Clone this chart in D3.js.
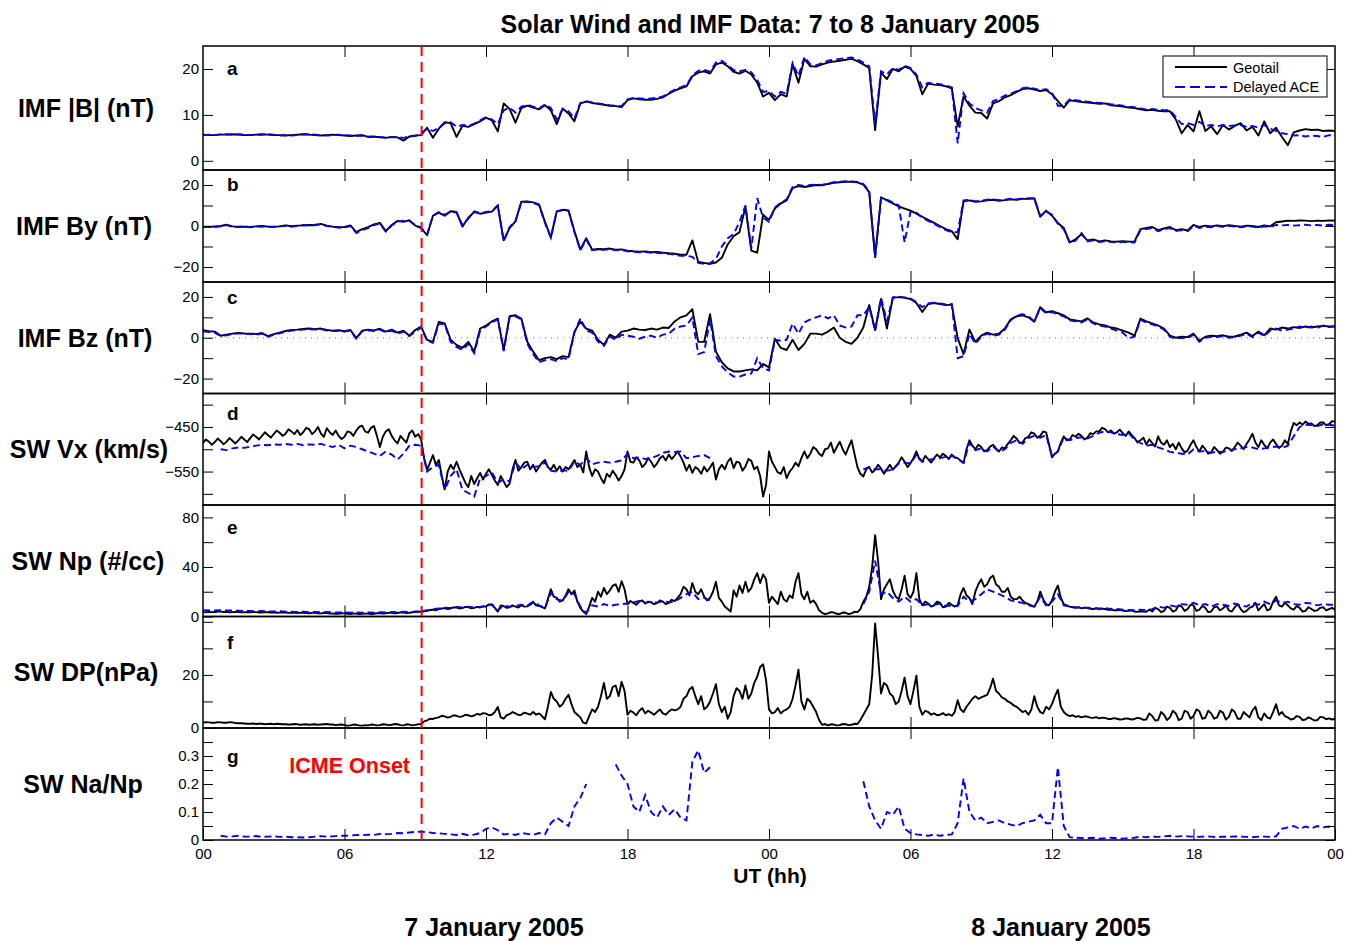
<!DOCTYPE html>
<html><head><meta charset="utf-8">
<script src="https://cdn.jsdelivr.net/npm/d3@7"></script>
<style>
body{margin:0;background:#fff}
text{font-family:Arial,"Liberation Sans",Helvetica,sans-serif}
</style>
</head><body>
<svg id="chart" width="1355" height="941"></svg>
<script>
// ---------------- DATA ----------------
// magnetic-field / ACE series: one value every 0.25 h; Geotail plasma series: every 0.125 h
const stepHours = 0.25;
const fineStepHours = 0.125;
const hourTicks = [0, 6, 12, 18, 24, 30, 36, 42, 48];
const hourTickLabels = ["00","06","12","18","00","06","12","18","00"];
const onsetHour = 9.27;
const seriesNames = ["Geotail", "Delayed ACE"];
const dayLabels = ["7 January 2005", "8 January 2005"];

const bmagGeotail = [
5.7,5.6,5.6,5.7, 5.7,5.8,5.7,5.6, 5.6,5.7,5.8,5.7, 5.6,5.6,5.5,5.6,
5.7,5.8,5.7,5.6, 5.5,5.6,5.7,5.6, 5.5,5.4,5.5,5.6, 5.2,5.3,5.1,5.0,
5.2,5.1,4.4,5.3, 5.5,5.6,7.2,5.0, 7.0,8.4,8.2,5.2, 7.6,7.4,8.0,8.6,
9.4,8.8,6.4,12.5, 11.3,8.3,11.5,12.0, 11.6,11.2,12.1,11.0, 8.0,11.4,10.3,8.6,
12.5,12.9,12.6,12.4, 12.2,12.0,11.9,11.7, 13.2,13.6,13.4,13.3, 13.3,13.5,13.8,14.6,
15.3,15.8,16.2,18.4, 19.2,19.5,19.0,21.0, 21.4,20.6,19.4,19.0, 19.6,18.8,17.0,14.0,
14.8,13.2,14.5,14.0, 21.0,17.0,22.2,20.6, 20.5,21.0,21.4,21.6, 21.8,22.0,22.2,21.7,
21.0,20.2,6.7,19.2, 17.8,20.0,19.5,20.5, 20.0,18.5,14.5,16.8, 16.6,16.5,16.2,15.8,
7.5,14.0,12.0,10.5, 10.4,9.2,12.5,13.0, 13.8,14.3,15.0,15.6, 15.8,15.5,15.2,15.4,
14.5,13.0,11.6,13.2, 13.0,12.8,12.7,12.6, 12.4,12.5,12.1,12.0, 11.8,11.6,11.5,11.2,
11.0,11.1,10.9,10.8, 10.8,9.0,6.0,7.8, 6.4,10.8,6.5,7.5, 5.8,7.8,6.8,7.6,
8.2,6.6,7.4,5.5, 8.6,6.0,7.2,5.2, 3.4,6.2,6.6,6.9, 6.7,6.8,6.5,6.6,
6.5];
const bmagAce = [
5.6,5.7,5.6,5.8, 5.8,5.7,5.8,5.7, 5.6,5.6,5.7,5.8, 5.7,5.5,5.6,5.5,
5.6,5.8,5.8,5.7, 5.6,5.5,5.6,5.7, 5.6,5.5,5.4,5.5, 5.3,5.2,5.2,5.1,
5.1,5.2,5.0,5.3, 5.4,6.0,7.0,6.5, 7.2,8.2,8.4,7.4, 7.8,7.6,8.1,8.8,
9.5,9.0,8.0,11.0, 11.6,10.5,11.8,12.2, 11.8,11.4,12.3,11.5, 9.0,11.2,10.8,9.2,
12.6,13.0,12.7,12.5, 12.3,12.1,12.0,11.9, 13.4,13.7,13.6,13.5, 13.6,13.7,14.0,14.8,
15.5,16.0,16.5,18.6, 19.6,19.8,19.4,21.4, 21.8,20.8,19.8,19.5, 19.8,19.3,17.6,15.0,
15.2,14.0,15.0,14.6, 21.3,18.5,22.6,21.0, 20.8,21.3,21.8,22.0, 22.2,22.4,22.5,22.1,
21.4,20.6,8.0,19.5, 18.8,20.2,19.8,20.7, 20.2,18.8,16.0,17.0, 16.8,16.7,16.4,16.0,
3.8,14.7,12.5,11.5, 11.0,10.5,13.0,13.5, 14.2,14.6,15.2,15.8, 16.0,15.7,15.4,15.6,
14.8,12.0,12.0,13.4, 13.2,13.0,12.9,12.7, 12.6,12.6,12.3,12.2, 12.0,11.8,11.7,11.4,
11.2,11.3,11.1,11.0, 11.0,9.5,8.0,8.2, 7.8,8.5,7.6,7.8, 7.5,7.8,7.6,7.7,
7.8,7.4,7.6,7.2, 7.8,7.0,6.5,6.0, 5.8,5.5,5.6,5.3, 5.5,5.4,5.2,5.6,
5.5];

const byGeotail = [
-0.3,-0.5,-0.2,0.0, 0.6,-0.2,-0.4,-0.3, -0.5,-0.2,0.0,-0.3, -0.4,-0.2,0.3,-0.1,
0.2,0.3,0.5,0.4, 1.0,0.2,-0.3,-0.6, -0.5,0.3,-3.0,-1.5, -0.5,0.8,1.5,-2.5,
0.5,2.5,2.0,2.8, 0.2,-1.0,-4.5,5.0, 6.5,5.0,7.2,6.8, -0.3,4.0,6.8,6.0,
6.5,7.0,10.0,-7.0, -1.0,2.2,11.9,12.0, 11.5,10.5,2.0,-5.5, 7.0,7.9,7.6,-2.6,
-11.5,-6.0,-11.5,-11.2, -11.3,-11.0,-11.5,-11.4, -12.0,-12.3,-12.5,-12.4, -12.8,-12.7,-13.0,-13.3,
-13.5,-14.0,-14.0,-7.0, -17.5,-18.0,-18.5,-17.8, -15.5,-9.0,-5.0,-3.0, 9.5,-12.0,-13.0,5.5,
3.0,8.5,11.0,12.5, 18.5,19.5,19.0,19.5, 20.0,19.8,20.5,21.0, 21.3,21.5,21.6,21.3,
20.2,16.5,-15.0,14.0, 12.5,11.0,9.5,8.5, 7.5,6.0,4.5,3.0, 1.5,0.0,-1.5,-2.5,
-6.5,12.0,12.5,11.8, 12.0,12.5,12.8,12.3, 12.6,13.0,12.8,13.2, 13.3,13.6,4.5,7.5,
5.0,1.5,-1.0,-8.0, -6.5,-4.0,-7.0,-6.5, -7.5,-7.0,-7.5,-7.6, -7.4,-7.6,-7.5,-1.5,
-1.0,-0.5,-2.0,-1.2, -0.5,-2.0,-1.5,-2.2, 0.5,-0.5,0.2,-0.2, 0.3,-0.1,0.4,0.0,
-0.3,0.2,0.0,-0.5, 0.3,-0.2,1.8,2.2, 2.6,2.5,2.7,2.6, 2.4,2.6,2.5,2.7,
2.6];
const byAce = [
-0.5,-0.3,-0.5,-0.2, 0.4,-0.4,-0.5,-0.2, -0.6,-0.3,-0.1,-0.4, -0.5,-0.1,0.1,-0.3,
0.0,0.5,0.3,0.6, 0.8,0.0,-0.5,-0.8, -0.7,0.0,-3.4,-2.0, -1.0,0.5,1.2,-2.7,
0.2,2.2,2.5,2.5, 0.5,-0.8,-4.2,5.0, 6.8,5.5,7.0,6.5, 0.5,3.6,7.1,6.3,
6.8,7.2,10.0,-7.5, -0.5,2.5,11.5,11.8, 11.2,10.2,1.5,-5.7, 7.2,7.8,7.4,-3.0,
-11.8,-6.5,-11.8,-11.5, -11.6,-11.3,-11.8,-11.7, -12.3,-12.6,-12.8,-12.7, -13.0,-13.1,-13.3,-13.6,
-14.0,-14.5,-14.5,-15.0, -18.0,-18.5,-18.2,-16.0, -10.0,-6.0,-4.0,2.0, 10.0,-11.0,13.6,4.0,
2.0,9.0,11.5,13.0, 19.0,20.0,19.5,20.0, 20.2,20.0,20.8,21.3, 21.6,21.8,21.7,21.5,
20.5,17.0,-15.5,13.6, 12.8,11.5,10.0,-8.0, 7.0,6.5,4.0,2.5, 1.0,-0.5,-2.0,-3.0,
-3.0,12.5,12.8,12.0, 12.3,12.8,13.0,12.6, 12.8,13.3,13.0,13.4, 13.5,13.2,5.0,7.0,
5.5,1.0,-1.5,-8.3, -7.0,-3.5,-7.5,-7.0, -7.8,-7.4,-7.8,-8.0, -7.8,-7.9,-8.0,-2.0,
-1.5,-1.0,-2.5,-1.5, -1.0,-2.5,-2.0,-2.5, 0.0,-1.0,-0.3,-0.6, 0.0,-0.4,0.1,-0.3,
-0.6,-0.2,-0.3,-0.8, -0.2,-0.5,0.5,0.3, 0.5,0.2,0.4,0.6, 0.3,0.5,0.2,0.6,
0.4];

const bzGeotail = [
3.7,3.2,3.0,1.0, 1.5,2.0,2.4,2.1, 2.0,1.8,2.3,0.8, 1.8,2.5,3.3,3.8,
4.0,4.3,4.5,4.2, 4.5,3.8,3.5,3.7, 3.2,3.8,-0.2,3.5, 4.0,3.6,4.4,3.0,
4.0,2.5,3.5,1.0, 3.8,5.5,-1.0,-2.0, 7.8,7.0,-1.0,-3.5, -5.0,-2.0,-6.8,4.5,
6.0,8.0,9.4,-6.0, 10.5,11.0,9.4,-2.0, -6.8,-11.0,-10.0,-9.5, -10.5,-9.0,-9.5,3.0,
8.0,4.5,3.5,-1.0, -3.5,1.5,0.0,3.0, 3.5,4.5,4.0,3.8, 4.5,4.0,5.0,4.8,
8.0,10.0,11.0,14.0, -2.0,-2.0,11.5,-6.8, -12.0,-15.0,-16.5,-16.5, -16.0,-15.5,-16.0,-12.8,
-14.6,-0.5,-5.0,-6.0, -1.0,-6.0,-3.0,2.0, 2.0,1.5,3.0,5.0, 0.0,-2.0,-3.0,0.0,
5.0,16.0,3.7,19.0, 4.5,19.5,19.9,19.5, 19.0,17.0,12.6,16.5, 17.0,16.5,16.0,16.2,
-0.2,-8.0,4.0,-2.0, 1.0,2.5,1.5,2.0, 4.5,9.0,10.5,11.0, 10.0,7.8,15.0,12.5,
13.0,12.0,11.0,9.0, 8.5,8.0,9.5,7.5, 6.5,6.0,5.0,4.5, 3.5,2.5,1.0,9.4,
8.0,7.0,6.0,4.5, 1.0,0.0,0.5,0.3, 2.0,-1.5,0.5,1.0, 0.8,1.2,0.5,0.6,
1.5,2.5,0.8,3.0, 1.2,4.5,4.0,5.0, 4.5,5.2,4.8,5.5, 5.0,5.5,5.8,5.5,
5.6];
const bzAce = [
3.2,2.8,2.5,0.8, 1.2,1.8,2.2,1.9, 1.8,1.5,2.0,0.5, 1.5,2.2,3.0,3.5,
3.8,4.0,4.2,4.0, 4.2,3.5,3.3,3.4, 3.0,3.5,-0.5,3.2, 3.6,3.3,4.0,2.6,
3.5,2.0,3.0,0.8, 3.0,5.0,-1.5,-2.5, 7.0,6.5,-2.0,-4.5, -6.0,-3.0,-7.5,3.5,
5.5,7.5,9.0,-6.5, 10.0,10.5,9.0,-3.0, -8.0,-12.0,-11.0,-10.5, -11.5,-10.0,-10.5,2.5,
9.5,3.5,2.5,-2.0, -4.0,0.5,-1.0,1.5, 1.0,0.5,-0.5,0.5, 1.0,0.0,1.5,2.0,
4.5,5.5,6.0,10.0, -8.0,-7.0,9.0,-9.0, -14.0,-17.0,-19.0,-19.0, -18.0,-17.5,-10.0,-15.0,
-16.0,-1.0,-1.5,-1.0, 7.0,2.0,7.5,9.0, 10.0,11.0,9.5,11.0, 6.0,5.0,5.5,11.0,
11.0,15.0,3.5,19.5, 8.0,19.8,20.2,19.8, 19.2,17.5,15.0,16.8, 17.2,16.8,16.3,16.5,
-10.0,-9.0,2.0,-3.0, 0.5,2.0,1.0,1.5, 4.0,8.5,11.0,11.5, 10.5,8.0,14.5,12.0,
12.5,11.5,10.5,8.5, 8.0,7.5,9.0,7.0, 6.0,5.5,4.5,3.5, 2.5,-0.2,0.5,8.8,
7.5,6.5,5.5,4.0, 0.5,-0.5,0.0,-0.3, 1.5,-2.0,0.0,0.5, 0.3,0.8,0.0,0.2,
1.0,2.0,0.3,2.5, 0.8,3.5,4.5,3.5, 4.0,4.5,5.5,4.8, 5.5,4.8,6.0,5.2,
5.5];

// Geotail Vx, every 0.125 h (8 values per hour)
const vxGeotail = [
-486,-478,-483,-490,-484,-476,-482,-489, -483,-475,-481,-487,-480,-472,-478,-484,
-475,-467,-472,-478,-470,-462,-468,-474, -466,-458,-463,-470,-465,-455,-460,-466,
-457,-468,-462,-452,-455,-466,-460,-450, -465,-472,-453,-462,-468,-458,-470,-477,
-472,-460,-462,-470,-458,-450,-447,-460, -463,-452,-448,-470,-495,-472,-460,-455,
-470,-480,-487,-470,-478,-485,-464,-458, -472,-466,-478,-520,-546,-530,-513,-535,
-524,-560,-590,-550,-535,-545,-528,-545, -560,-575,-585,-560,-578,-565,-553,-568,
-555,-545,-558,-570,-580,-560,-572,-585, -577,-545,-524,-548,-540,-530,-528,-545,
-535,-550,-540,-530,-524,-540,-546,-535, -548,-538,-550,-540,-545,-535,-524,-540,
-535,-552,-505,-540,-560,-545,-550,-565, -576,-555,-562,-548,-558,-570,-560,-545,
-505,-528,-530,-518,-525,-540,-533,-520, -528,-540,-532,-520,-515,-525,-512,-522,
-514,-505,-516,-530,-548,-535,-553,-540, -545,-555,-539,-550,-541,-530,-568,-545,
-535,-545,-528,-520,-542,-528,-530,-548, -539,-522,-526,-545,-539,-560,-606,-580,
-505,-528,-540,-552,-555,-540,-565,-550, -542,-530,-538,-520,-505,-520,-510,-495,
-500,-510,-515,-500,-498,-485,-508,-495, -483,-500,-512,-495,-480,-510,-540,-555,
-561,-545,-540,-552,-546,-535,-543,-555, -545,-535,-546,-538,-530,-518,-528,-540,
-531,-520,-505,-522,-528,-515,-522,-530, -520,-512,-518,-510,-515,-522,-512,-518,
-520,-526,-531,-500,-480,-492,-500,-490, -495,-505,-502,-494,-490,-498,-505,-496,
-498,-488,-480,-470,-476,-486,-485,-475, -472,-462,-465,-474,-470,-460,-462,-490,
-518,-510,-505,-485,-471,-480,-478,-468, -472,-465,-470,-478,-474,-464,-466,-460,
-460,-452,-455,-462,-458,-465,-462,-456, -464,-470,-460,-468,-475,-485,-480,-474,
-489,-478,-486,-494,-471,-485,-490,-480, -495,-488,-500,-485,-498,-507,-503,-490,
-480,-495,-505,-492,-500,-510,-507,-495, -502,-510,-505,-496,-498,-504,-495,-485,
-492,-500,-488,-478,-465,-485,-495,-480, -490,-498,-485,-478,-488,-497,-492,-480,
-488,-460,-441,-446,-440,-445,-438,-443, -442,-448,-446,-440,-440,-446,-444,-437,
-438];
const vxAce = [
null,null,null,-500, -502,-498,-496,-497, -494,-492,-490,-491, -489,-490,-488,-490,
-488,-491,-489,-490, -488,-492,-495,-490, -498,-492,-495,-500, -505,-510,-515,-505,
-512,-523,-510,-492, -490,-492,-550,-540, -535,-591,-560,-545, -591,-598,-606,-565,
-560,-552,-575,-568, -572,-530,-545,-535, -540,-538,-530,-548, -550,-548,-548,-528,
-535,-520,-534,-530, -528,-530,-528,-525, -510,-520,-518,-522, -520,-515,-508,-505,
-506,-505,-520,-518, -515,-513,-520,null, null,null,null,null, null,null,null,null,
null,null,null,null, null,null,null,null, null,null,null,null, null,null,null,null,
-545,-540,-545,-545, -548,-546,-532,-530, -532,-512,-528,-524, -522,-520,-517,-515,
-522,-530,-486,-502, -498,-505,-494,-506, -500,-486,-480,-488, -475,-470,-474,-468,
-515,-505,-474,-480, -475,-473,-476,-470, -463,-460,-462,-466, -468,-464,-478,-486,
-492,-490,-496,-500, -506,-508,-510,-512, -500,-505,-504,-508, -505,-506,-502,-500,
-498,-495,-496,-500, -498,-496,-494,-497, -492,-471,-450,-445, -446,-448,-444,-445,
-447];

// Geotail Np, every 0.125 h
const npGeotail = [
3.5,3.3,3.8,3.5,3.6,3.9,3.9,3.6, 3.7,3.4,3.5,3.7,3.6,3.3,3.4,3.5,
3.3,3.6,3.5,3.2,3.2,3.5,3.4,3.1, 3.3,3.0,3.1,3.3,3.2,2.9,3.0,3.1,
2.8,3.1,3.0,2.7,2.6,2.9,2.9,2.6, 2.5,2.8,2.7,2.3,2.4,2.1,2.2,2.5,
2.6,2.2,2.0,2.4,2.3,1.9,2.1,2.3, 2.4,2.0,2.2,2.6,2.8,2.4,2.6,2.9,
3.0,2.6,2.8,3.3,3.2,2.8,3.0,3.3, 3.5,3.9,3.8,4.2,4.5,5.2,5.5,5.0,
6.0,6.5,6.8,6.0,6.5,7.4,7.2,6.4, 6.8,7.8,7.5,6.6,7.0,7.8,7.3,8.2,
8.0,9.8,9.5,7.0,4.0,9.0,8.5,7.0, 7.5,9.0,8.0,7.2,9.0,8.0,8.2,9.5,
11.6,9.0,8.5,7.5,6.5,14.0,22.0,16.0, 15.0,12.0,13.0,17.0,22.0,18.0,21.0,12.0,
7.0,4.0,2.0,8.0,15.0,12.0,20.0,16.0, 23.0,18.0,21.0,25.0,26.0,20.0,28.5,22.0,
10.0,12.5,11.0,9.5,12.0,13.0,10.5,12.0, 11.5,10.0,10.8,13.0,12.0,10.0,11.0,13.5,
12.5,15.0,18.0,24.0,22.0,17.0,27.0,20.0, 18.0,22.0,16.0,13.0,15.0,20.0,28.0,15.0,
12.0,8.0,6.0,4.0,21.0,16.0,25.0,19.0, 28.0,20.0,23.0,30.0,35.0,27.0,34.0,30.0,
11.0,16.0,13.0,10.0,20.0,14.0,12.0,17.0, 15.0,28.0,35.0,18.0,14.0,20.0,11.0,13.0,
10.0,5.0,3.0,2.0,2.5,3.5,3.2,2.2, 2.0,3.2,3.0,2.0,2.5,3.8,3.5,6.0,
12.0,16.0,24.0,40.0,65.7,45.0,14.0,22.0, 26.0,30.0,21.0,16.0,14.0,22.0,33.0,18.0,
15.0,20.0,35.0,14.0,9.0,12.0,10.5,8.0, 9.0,12.0,11.0,7.5,8.0,11.0,9.5,8.0,
9.0,18.0,23.0,17.0,15.0,10.0,20.0,26.0, 30.0,24.0,26.0,31.0,33.0,26.0,24.0,20.0,
20.0,23.0,16.0,14.0,14.0,16.0,13.0,11.0, 10.0,9.0,8.0,12.0,20.0,14.0,10.0,9.0,
13.0,20.0,25.0,15.0,10.0,9.0,8.0,7.5, 7.0,7.5,6.5,7.2,6.8,6.2,6.0,6.5,
5.8,6.3,6.0,5.4,5.5,5.0,5.0,5.4, 4.8,4.3,4.5,4.9,4.0,3.7,4.2,3.9,
3.8,5.5,4.0,7.0,6.0,3.5,4.5,8.0, 7.0,4.0,5.0,9.0,8.0,4.5,6.0,9.5,
9.0,4.5,5.5,8.5,7.0,3.5,4.0,7.5, 8.0,5.0,6.5,9.0,5.0,4.0,7.5,10.0,
6.0,3.5,4.5,7.0,8.0,11.0,5.0,7.5, 10.0,5.0,6.0,12.0,16.0,9.0,8.0,11.0,
9.0,6.5,5.5,8.5,7.0,4.0,4.5,7.5, 6.0,4.5,5.0,7.0,7.5,5.0,6.0,7.0,
5.5];
const npAce = [
4.8,5.0,4.8,5.1, 4.9,4.8,4.7,4.5, 4.4,4.3,4.5,4.2, 4.0,4.2,3.9,3.8,
3.6,3.8,3.5,3.7, 3.4,3.6,3.3,3.2, 3.4,3.1,3.3,3.0, 3.3,3.1,3.5,3.3,
3.6,3.4,3.8,3.6, 4.0,4.2,5.0,6.0, 6.5,7.2,7.0,7.8, 7.2,8.0,7.5,7.8,
8.5,9.8,5.0,8.8, 8.0,8.5,9.5,8.8, 12.0,9.0,7.0,19.0, 14.0,12.5,20.0,18.0,
8.0,3.0,9.0,8.0, 10.0,8.5,9.5,10.0, 10.5,11.5,12.5,11.0, 12.0,11.2,12.5,11.5,
12.0,15.0,18.0,20.0, 14.0,15.0,13.0,null, null,null,null,null, null,null,null,null,
null,null,null,null, null,null,null,null, null,null,null,null, null,null,null,null,
10.0,20.0,45.0,18.0, 20.0,15.0,12.0,16.0, 12.0,14.0,9.0,10.0, 9.5,10.5,8.5,9.0,
8.5,16.0,12.0,14.0, 18.0,22.0,20.0,18.0, 16.0,13.0,12.0,11.0, 9.0,8.0,16.0,9.0,
12.0,18.0,9.0,8.0, 7.5,7.0,7.2,6.8, 6.5,6.8,6.2,6.0, 5.5,5.2,5.0,5.5,
5.0,6.0,8.0,7.0, 9.0,8.0,10.0,9.5, 11.0,9.0,10.0,8.0, 10.0,9.5,8.5,10.5,
9.0,8.0,11.0,9.5, 12.0,10.0,13.0,11.0, 12.0,10.0,9.5,11.0, 10.5,9.0,10.0,9.5,
9.5];

// Geotail dynamic pressure, every 0.125 h
const dpGeotail = [
2.0,2.2,2.1,2.0,2.0,2.2,2.1,2.0, 2.0,2.2,2.1,1.9,1.8,1.8,1.7,1.6,
1.6,1.7,1.5,1.6,1.6,1.4,1.5,1.6, 1.4,1.6,1.5,1.4,1.4,1.3,1.3,1.5,
1.4,1.2,1.3,1.4,1.2,1.3,1.4,1.2, 1.3,1.4,1.5,1.3,1.3,1.1,1.2,1.3,
1.1,0.9,1.0,1.3,1.2,1.0,0.9,1.1, 1.0,1.3,1.2,1.0,1.1,1.4,1.3,1.1,
1.2,1.5,1.4,1.1,1.0,1.4,1.3,1.0, 1.2,1.4,1.5,2.5,2.9,3.5,3.4,3.8,
4.0,4.6,4.4,3.9,4.2,4.8,4.6,4.2, 4.4,5.0,4.8,4.4,4.7,5.3,5.0,5.6,
5.4,4.8,5.0,6.0,7.9,4.0,3.5,4.8, 5.2,6.0,5.5,4.9,5.0,5.8,5.4,5.0,
6.0,5.0,5.5,4.5,3.3,8.0,13.6,11.0, 10.0,8.0,9.0,11.0,12.5,9.0,6.0,5.0,
4.0,2.0,1.7,4.5,7.0,6.0,8.0,12.0, 17.0,11.0,12.0,15.5,16.0,12.0,17.4,14.0,
5.0,6.5,5.8,4.8,6.5,7.5,5.5,6.5, 5.8,5.0,6.0,7.0,5.5,5.0,6.2,7.0,
6.6,7.0,8.0,11.0,12.0,14.5,15.5,12.0, 9.0,12.0,7.0,8.0,10.0,13.0,16.5,9.0,
6.0,8.0,3.5,6.0,12.0,15.0,14.0,11.0, 16.0,11.0,13.0,17.0,19.3,23.0,24.0,18.0,
7.0,5.5,6.0,7.5,5.5,6.5,7.0,8.0, 11.0,16.0,22.0,10.0,7.0,11.0,10.0,8.0,
6.0,3.0,1.2,1.5,1.0,1.4,1.3,1.0, 1.1,1.5,1.4,1.1,1.2,1.6,1.5,3.0,
5.0,7.0,9.0,20.0,39.4,27.0,13.0,17.0, 16.0,13.0,12.0,9.0,10.0,14.0,19.0,12.0,
9.0,14.0,19.7,8.0,5.0,6.5,6.0,5.0, 5.5,4.8,5.0,5.6,4.8,5.2,4.6,6.0,
10.5,7.0,6.0,8.0,9.5,11.0,12.0,11.0, 11.5,12.0,12.5,15.0,18.6,14.0,13.0,11.5,
11.0,10.0,9.5,8.5,8.0,7.0,6.0,6.5, 5.0,7.0,12.0,8.0,6.0,5.5,8.0,7.0,
9.0,12.0,14.4,8.0,6.0,5.0,4.5,4.8, 4.2,4.5,4.0,4.4,4.3,3.9,3.8,4.1,
3.6,3.9,3.8,3.4,3.4,3.7,3.5,3.2, 3.3,3.6,3.5,3.2,3.4,3.8,3.6,3.1,
3.2,5.5,4.5,2.8,3.0,6.0,5.0,3.0, 4.0,6.5,5.5,3.0,3.5,6.5,6.0,3.5,
4.5,7.0,6.3,3.5,3.8,6.5,5.5,3.5, 4.0,6.5,5.8,3.2,4.2,7.0,6.0,3.5,
3.5,6.0,5.0,4.0,6.6,8.0,4.0,3.0, 5.5,4.0,3.5,6.0,9.0,5.0,6.0,4.5,
4.0,3.2,3.5,4.5,4.2,3.0,3.2,4.0, 3.5,2.8,3.0,4.2,4.0,3.3,3.6,3.2,
3.5];

const naNpAce = [
null,null,null,0.015, 0.012,0.013,0.015,0.012, 0.012,0.014,0.011,0.012, 0.013,0.011,0.012,0.010,
0.010,0.009,0.010,0.012, 0.014,0.012,0.013,0.015, 0.015,0.016,0.018,0.017, 0.019,0.018,0.022,0.021,
0.022,0.025,0.024,0.027, 0.029,0.030,0.028,0.025, 0.024,0.022,0.020,0.018, 0.022,0.017,0.019,0.025,
0.040,0.045,0.035,0.020, 0.022,0.018,0.025,0.022, 0.018,0.025,0.020,0.060, 0.080,0.065,0.050,0.120,
0.150,0.200,null,null, null,null,0.270,0.230, 0.200,0.120,0.100,0.160, 0.100,0.080,0.120,0.090,
0.110,0.080,0.070,0.280, 0.320,0.240,0.260,null, null,null,null,null, null,null,null,null,
null,null,null,null, null,null,null,null, null,null,null,null, null,null,null,null,
0.210,0.120,0.070,0.040, 0.100,0.090,0.120,0.040, 0.025,0.020,0.018,0.015, 0.020,0.015,0.018,0.020,
0.060,0.220,0.100,0.070, 0.080,0.060,0.065,0.070, 0.060,0.055,0.050,0.060, 0.065,0.070,0.090,0.060,
0.060,0.260,0.050,0.010, 0.008,0.007,0.006,0.008, 0.005,0.006,0.008,0.006, 0.005,0.007,0.008,0.012,
0.010,0.012,0.011,0.013, 0.015,0.012,0.014,0.013, 0.012,0.011,0.013,0.012, 0.010,0.012,0.011,0.013,
0.012,0.011,0.010,0.012, 0.012,0.011,0.013,0.040, 0.045,0.050,0.040,0.048, 0.042,0.050,0.045,0.048,
0.045];

// ---------------- LAYOUT ----------------
const X0 = 203, X1 = 1335;
const x = d3.scaleLinear().domain([0, 48]).range([X0, X1]);

const panels = [
  {letter:"a", label:"IMF |B| (nT)", labelX:86, top:46, bottom:170, domain:[-2,25],
   ticks:[0,10,20], labeled:[0,10,20], letterY:75,
   geotail:{data:bmagGeotail, step:stepHours}, ace:{data:bmagAce, step:stepHours}},
  {letter:"b", label:"IMF By (nT)", labelX:84, top:170, bottom:282, domain:[-27.3,27.3],
   ticks:[-20,-10,0,10,20], labeled:[-20,0,20], letterY:191,
   geotail:{data:byGeotail, step:stepHours}, ace:{data:byAce, step:stepHours}},
  {letter:"c", label:"IMF Bz (nT)", labelX:85, top:282, bottom:393.5, domain:[-27.3,27.3],
   ticks:[-20,-10,0,10,20], labeled:[-20,0,20], letterY:304, zeroLine:true,
   geotail:{data:bzGeotail, step:stepHours}, ace:{data:bzAce, step:stepHours}},
  {letter:"d", label:"SW Vx (km/s)", labelX:89, top:393.5, bottom:505, domain:[-625,-375],
   ticks:[-600,-550,-500,-450,-400], labeled:[-550,-450], letterY:420,
   geotail:{data:vxGeotail, step:fineStepHours}, ace:{data:vxAce, step:stepHours}},
  {letter:"e", label:"SW Np (#/cc)", labelX:88, top:505, bottom:616.5, domain:[0,90],
   ticks:[0,20,40,60,80], labeled:[0,40,80], letterY:534,
   geotail:{data:npGeotail, step:fineStepHours}, ace:{data:npAce, step:stepHours}},
  {letter:"f", label:"SW DP(nPa)", labelX:86, top:616.5, bottom:728, domain:[0,42],
   ticks:[0,10,20,30,40], labeled:[0,20], letterY:649,
   geotail:{data:dpGeotail, step:fineStepHours}, ace:null},
  {letter:"g", label:"SW Na/Np", labelX:83, top:728, bottom:840, domain:[0,0.4],
   ticks:[0,0.05,0.1,0.15,0.2,0.25,0.3,0.35], labeled:[0,0.1,0.2,0.3], letterY:763,
   geotail:null, ace:{data:naNpAce, step:stepHours}}
];

const svg = d3.select("#chart");
const fmt = v => {
  const s = (Math.abs(v) < 1 && v !== 0) ? String(+v.toFixed(2)) : String(v);
  return s.replace("-", "\u2212");
};

svg.append("text").attr("x", 770).attr("y", 33).attr("text-anchor","middle")
  .attr("font-size", 25).attr("font-weight","bold")
  .text("Solar Wind and IMF Data: 7 to 8 January 2005");

const defs = svg.append("defs");
const midTicks = hourTicks.slice(1, -1);

panels.forEach((p, pi) => {
  const y = d3.scaleLinear().domain(p.domain).range([p.bottom, p.top]);
  const g = svg.append("g");
  const cid = "clip" + pi;
  defs.append("clipPath").attr("id", cid).append("rect")
    .attr("x", X0).attr("y", p.top).attr("width", X1 - X0).attr("height", p.bottom - p.top);

  if (p.zeroLine) {
    g.append("line").attr("x1", X0).attr("x2", X1).attr("y1", y(0)).attr("y2", y(0))
      .attr("stroke", "#777").attr("stroke-width", 1).attr("stroke-dasharray", "1,5");
  }

  const line = d3.line().defined(d => d.v !== null)
    .x(d => x(d.t)).y(d => y(d.v));
  const toPts = s => s.data.map((v, i) => ({t: i * s.step, v}));
  const data = g.append("g").attr("clip-path", `url(#${cid})`);
  if (p.geotail) {
    data.append("path").datum(toPts(p.geotail)).attr("d", line)
      .attr("fill","none").attr("stroke","#000").attr("stroke-width",1.9)
      .attr("stroke-linejoin","round");
  }
  if (p.ace) {
    data.append("path").datum(toPts(p.ace)).attr("d", line)
      .attr("fill","none").attr("stroke","#0000ff").attr("stroke-width",1.9)
      .attr("stroke-dasharray","7,4");
  }

  const ax = g.append("g").attr("transform", `translate(${X0},0)`)
    .call(d3.axisLeft(y).tickValues(p.ticks).tickSize(-10).tickPadding(4)
      .tickFormat(d => p.labeled.some(v => Math.abs(v - d) < 1e-9) ? fmt(d) : ""));
  const axr = g.append("g").attr("transform", `translate(${X1},0)`)
    .call(d3.axisRight(y).tickValues(p.ticks).tickSize(-10).tickFormat(""));
  const axt = g.append("g").attr("transform", `translate(0,${p.top})`)
    .call(d3.axisTop(x).tickValues(midTicks).tickSize(-11).tickFormat(""));
  const last = pi === panels.length - 1;
  const axb = g.append("g").attr("transform", `translate(0,${p.bottom})`)
    .call(d3.axisBottom(x).tickValues(last ? hourTicks : midTicks)
      .tickSize(-11).tickPadding(8)
      .tickFormat(last ? ((d, i) => hourTickLabels[i]) : ""));
  [ax, axr, axt, axb].forEach(a => {
    a.select(".domain").remove();
    a.selectAll("line").attr("stroke", "#000").attr("stroke-width", 1);
    a.selectAll("text").attr("font-size", 15).attr("fill", "#000")
      .attr("font-family", "Arial, 'Liberation Sans', sans-serif");
  });

  g.append("rect").attr("x", X0).attr("y", p.top).attr("width", X1 - X0)
    .attr("height", p.bottom - p.top).attr("fill", "none")
    .attr("stroke", "#000").attr("stroke-width", 1.5);

  g.append("text").attr("x", 227).attr("y", p.letterY).attr("font-size", 19)
    .attr("font-weight", "bold").text(p.letter);
  g.append("text").attr("x", p.labelX).attr("y", (p.top + p.bottom) / 2).attr("dy", "0.35em")
    .attr("text-anchor", "middle").attr("font-size", 25).attr("font-weight", "bold")
    .text(p.label);
});

svg.append("line").attr("x1", x(onsetHour)).attr("x2", x(onsetHour))
  .attr("y1", panels[0].top).attr("y2", panels[panels.length-1].bottom)
  .attr("stroke", "#ff0000").attr("stroke-width", 2).attr("stroke-dasharray", "10,6");
svg.append("text").attr("x", 410).attr("y", 773).attr("text-anchor", "end")
  .attr("font-size", 21.5).attr("font-weight", "bold").attr("fill", "#ff0000")
  .text("ICME Onset");

const lg = svg.append("g");
lg.append("rect").attr("x", 1163).attr("y", 56).attr("width", 164).attr("height", 41)
  .attr("fill", "#fff").attr("stroke", "#000").attr("stroke-width", 1);
lg.append("line").attr("x1", 1175).attr("x2", 1227).attr("y1", 67).attr("y2", 67)
  .attr("stroke", "#000").attr("stroke-width", 1.8);
lg.append("line").attr("x1", 1175).attr("x2", 1227).attr("y1", 87).attr("y2", 87)
  .attr("stroke", "#0000ff").attr("stroke-width", 1.9).attr("stroke-dasharray", "10,5");
lg.append("text").attr("x", 1233).attr("y", 72.5).attr("font-size", 14.5).text(seriesNames[0]);
lg.append("text").attr("x", 1233).attr("y", 92).attr("font-size", 14.5).text(seriesNames[1]);

svg.append("text").attr("x", 770).attr("y", 883).attr("text-anchor", "middle")
  .attr("font-size", 21).attr("font-weight", "bold").text("UT (hh)");
svg.append("text").attr("x", 494).attr("y", 936).attr("text-anchor", "middle")
  .attr("font-size", 25).attr("font-weight", "bold").text(dayLabels[0]);
svg.append("text").attr("x", 1061).attr("y", 936).attr("text-anchor", "middle")
  .attr("font-size", 25).attr("font-weight", "bold").text(dayLabels[1]);
</script>
</body></html>
